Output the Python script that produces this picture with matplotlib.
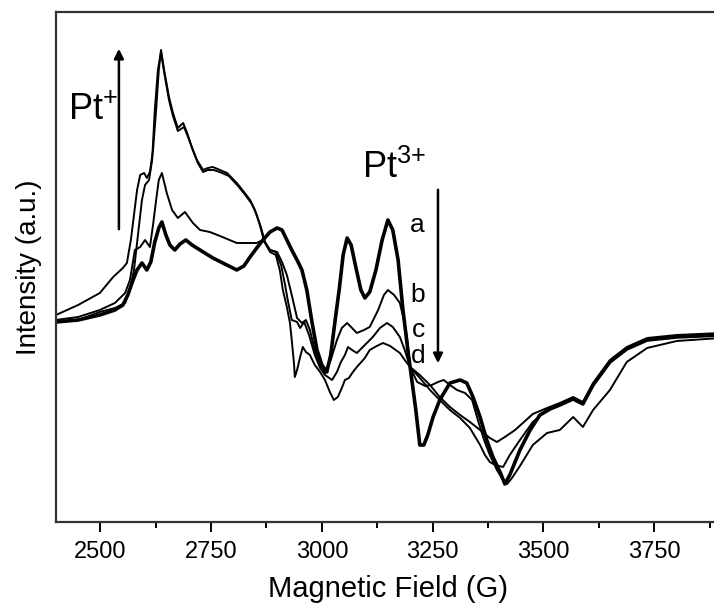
import matplotlib
matplotlib.use("Agg")
import matplotlib.pyplot as plt

# EPR spectra a-d, field in G, intensity in arbitrary units
field_a = [2400, 2450, 2499, 2533, 2551, 2562, 2574, 2583, 2594, 2605, 2614, 2623, 2632, 2639,
           2648, 2657, 2668, 2680, 2693, 2707, 2725, 2754, 2781, 2808, 2824, 2838, 2853, 2867,
           2883, 2899, 2910, 2921, 2932, 2944, 2955, 2966, 2978, 2989, 3000, 3011, 3020, 3030,
           3039, 3048, 3057, 3066, 3077, 3088, 3097, 3108, 3122, 3136, 3149, 3160, 3172, 3183,
           3194, 3203, 3212, 3221, 3230, 3239, 3251, 3266, 3289, 3312, 3327, 3341, 3357, 3372,
           3386, 3402, 3413, 3424, 3447, 3470, 3492, 3515, 3537, 3567, 3589, 3612, 3650, 3688,
           3734, 3801, 3900]
int_a = [2.00, 2.02, 2.07, 2.12, 2.17, 2.27, 2.42, 2.52, 2.59, 2.52, 2.60, 2.80, 2.94, 3.00,
         2.87, 2.77, 2.72, 2.78, 2.82, 2.77, 2.72, 2.64, 2.58, 2.52, 2.56, 2.65, 2.74, 2.82,
         2.90, 2.94, 2.92, 2.82, 2.72, 2.62, 2.52, 2.32, 1.99, 1.72, 1.57, 1.50, 1.67, 2.02,
         2.32, 2.67, 2.84, 2.77, 2.54, 2.32, 2.24, 2.30, 2.52, 2.82, 3.02, 2.92, 2.62, 2.12,
         1.72, 1.42, 1.12, 0.77, 0.77, 0.87, 1.05, 1.22, 1.39, 1.42, 1.39, 1.25, 1.05, 0.82,
         0.65, 0.50, 0.38, 0.47, 0.72, 0.92, 1.07, 1.13, 1.17, 1.23, 1.18, 1.37, 1.60, 1.73,
         1.82, 1.85, 1.87]

field_b = [2400, 2450, 2499, 2533, 2556, 2567, 2578, 2590, 2601, 2612, 2619, 2626, 2632, 2639,
           2650, 2662, 2675, 2691, 2709, 2725, 2747, 2770, 2808, 2838, 2853, 2867, 2883, 2899,
           2910, 2921, 2932, 2944, 2955, 2964, 2973, 2984, 2996, 3007, 3020, 3034, 3045, 3057,
           3068, 3079, 3095, 3108, 3127, 3140, 3149, 3163, 3176, 3185, 3192, 3199, 3215, 3233,
           3248, 3262, 3275, 3289, 3305, 3323, 3339, 3352, 3366, 3379, 3395, 3409, 3418, 3429,
           3447, 3476, 3508, 3537, 3567, 3589, 3612, 3650, 3688, 3734, 3801, 3900]
int_b = [2.02, 2.05, 2.12, 2.19, 2.29, 2.42, 2.72, 2.75, 2.82, 2.75, 2.97, 3.22, 3.42, 3.49,
         3.29, 3.12, 3.04, 3.10, 2.99, 2.92, 2.90, 2.86, 2.79, 2.79, 2.79, 2.82, 2.72, 2.70,
         2.60, 2.47, 2.27, 2.04, 1.99, 2.02, 1.92, 1.72, 1.57, 1.49, 1.62, 1.82, 1.94, 1.99,
         1.94, 1.89, 1.92, 1.95, 2.12, 2.27, 2.32, 2.27, 2.19, 2.02, 1.85, 1.55, 1.40, 1.36,
         1.37, 1.40, 1.42, 1.37, 1.32, 1.29, 1.22, 1.02, 0.82, 0.67, 0.52, 0.42, 0.38, 0.44,
         0.56, 0.77, 0.89, 0.92, 1.05, 0.95, 1.12, 1.32, 1.60, 1.74, 1.81, 1.84]

field_c = [2400, 2450, 2499, 2529, 2551, 2560, 2569, 2576, 2583, 2590, 2599, 2605, 2612, 2619,
           2626, 2632, 2637, 2644, 2655, 2664, 2675, 2687, 2696, 2707, 2718, 2732, 2743, 2754,
           2770, 2786, 2808, 2826, 2838, 2849, 2860, 2869, 2883, 2896, 2908, 2917, 2923, 2932,
           2944, 2951, 2960, 2971, 2984, 2996, 3007, 3023, 3034, 3043, 3052, 3059, 3068, 3079,
           3097, 3115, 3131, 3147, 3160, 3176, 3187, 3199, 3221, 3244, 3266, 3289, 3312, 3334,
           3357, 3379, 3395, 3413, 3436, 3476, 3508, 3537, 3567, 3589, 3612, 3650, 3688, 3734,
           3801, 3900]
int_c = [2.07, 2.17, 2.29, 2.45, 2.54, 2.59, 2.82, 3.07, 3.32, 3.47, 3.49, 3.44, 3.50, 3.72,
         4.12, 4.52, 4.72, 4.52, 4.25, 4.09, 3.94, 3.99, 3.89, 3.74, 3.62, 3.52, 3.54, 3.55,
         3.52, 3.49, 3.39, 3.29, 3.22, 3.12, 2.97, 2.82, 2.72, 2.70, 2.57, 2.37, 2.22, 2.02,
         2.00, 1.94, 2.00, 1.87, 1.67, 1.54, 1.47, 1.42, 1.50, 1.60, 1.67, 1.75, 1.72, 1.69,
         1.77, 1.85, 1.94, 1.99, 1.95, 1.85, 1.72, 1.55, 1.47, 1.37, 1.25, 1.15, 1.07, 1.00,
         0.92, 0.84, 0.80, 0.85, 0.92, 1.08, 1.14, 1.19, 1.25, 1.20, 1.39, 1.62, 1.75, 1.84,
         1.87, 1.89]

field_d = [2400, 2450, 2499, 2533, 2556, 2567, 2576, 2585, 2594, 2601, 2610, 2617, 2623, 2630,
           2637, 2644, 2655, 2664, 2675, 2689, 2698, 2709, 2720, 2732, 2743, 2756, 2775, 2790,
           2811, 2829, 2842, 2853, 2863, 2872, 2883, 2896, 2905, 2912, 2921, 2928, 2932, 2937,
           2939, 2944, 2951, 2957, 2964, 2973, 2984, 2996, 3007, 3018, 3027, 3036, 3045, 3052,
           3061, 3070, 3079, 3097, 3108, 3124, 3138, 3154, 3176, 3187, 3199, 3221, 3244, 3266,
           3289, 3312, 3334, 3357, 3368, 3379, 3391, 3409, 3424, 3447, 3476, 3508, 3537, 3567,
           3589, 3612, 3650, 3688, 3734, 3801, 3900]
int_d = [2.00, 2.02, 2.10, 2.14, 2.19, 2.32, 2.52, 2.87, 3.22, 3.37, 3.42, 3.62, 4.12, 4.52,
         4.70, 4.50, 4.22, 4.06, 3.91, 3.95, 3.85, 3.72, 3.59, 3.50, 3.52, 3.52, 3.49, 3.46,
         3.36, 3.26, 3.18, 3.07, 2.94, 2.79, 2.70, 2.67, 2.52, 2.32, 2.15, 1.99, 1.82, 1.59,
         1.45, 1.52, 1.65, 1.75, 1.70, 1.67, 1.57, 1.50, 1.42, 1.30, 1.22, 1.25, 1.34, 1.42,
         1.44, 1.50, 1.55, 1.64, 1.72, 1.76, 1.79, 1.76, 1.69, 1.62, 1.55, 1.44, 1.32, 1.22,
         1.12, 1.04, 0.94, 0.77, 0.67, 0.60, 0.57, 0.55, 0.67, 0.82, 1.00, 1.12, 1.18, 1.24,
         1.19, 1.38, 1.61, 1.74, 1.83, 1.86, 1.88]

curve_labels = ["a", "b", "c", "d"]
label_field = [3215, 3217, 3217, 3217]
label_int = [2.97, 2.27, 1.92, 1.66]
xticks = [2500, 2750, 3000, 3250, 3500, 3750]

plt.rcParams["font.family"] = ["Liberation Sans", "DejaVu Sans"]
plt.rcParams["mathtext.default"] = "regular"

fig = plt.figure(figsize=(7.14, 6.05), dpi=100)
ax = fig.add_axes([0.0784, 0.1372, 0.931, 0.843])

ax.plot(field_a, int_a, color="black", lw=2.6, solid_joinstyle="round")
ax.plot(field_b, int_b, color="black", lw=1.4, solid_joinstyle="round")
ax.plot(field_c, int_c, color="black", lw=1.4, solid_joinstyle="round")
ax.plot(field_d, int_d, color="black", lw=1.4, solid_joinstyle="round")

for lab, fx, fy in zip(curve_labels, label_field, label_int):
    ax.text(fx, fy, lab, fontsize=19, ha="center", va="center")

# Pt+ grows, Pt3+ drops
ax.text(2427, 4.02, "Pt$^{{+}}$", fontsize=26, ha="left", va="baseline")
ax.annotate("", xy=(2542, 4.76), xytext=(2542, 2.90),
            arrowprops=dict(arrowstyle="-|>", color="black", lw=1.8, mutation_scale=14))
ax.text(3090, 3.44, "Pt$^{3{+}}$", fontsize=26, ha="left", va="baseline")
ax.annotate("", xy=(3262, 1.56), xytext=(3262, 3.35),
            arrowprops=dict(arrowstyle="-|>", color="black", lw=1.8, mutation_scale=14))

ax.set_xlim(2400, 3900)
ax.set_ylim(0, 5.10)
ax.set_xticks(xticks)
ax.set_xticks([2625, 2875, 3125, 3375, 3625, 3875], minor=True)
ax.set_yticks([])
ax.tick_params(axis="x", which="major", direction="out", length=7, width=1.4, pad=7,
               labelsize=17)
ax.tick_params(axis="x", which="minor", direction="out", length=4, width=1.4)
for sp in ax.spines.values():
    sp.set_linewidth(1.6)
    sp.set_color("#333333")

ax.set_xlabel("Magnetic Field (G)", fontsize=21, labelpad=8)
ax.set_ylabel("Intensity (a.u.)", fontsize=20, labelpad=10)

plt.savefig("out.png", dpi=100)
